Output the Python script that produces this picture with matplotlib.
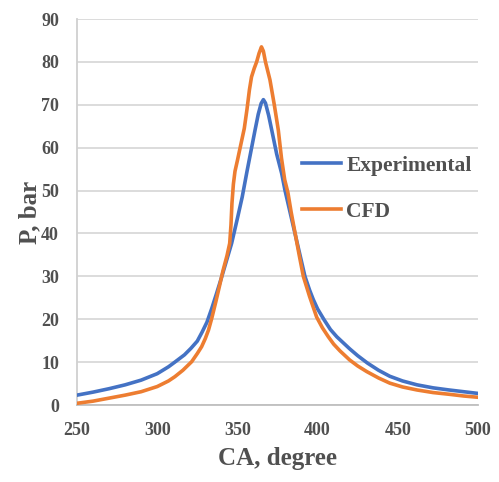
import matplotlib
matplotlib.use("Agg")
import matplotlib.pyplot as plt

exp_ca = [250, 260, 270, 280, 290, 300, 307, 311, 317, 321, 325, 328, 331, 334, 337, 340, 343, 346.4,
          350, 353, 356, 358.5, 361, 363, 364.8, 366.2, 367.5, 369.5, 371.4, 374.5, 377.6, 379.7,
          382.8, 385.9, 389, 392.1, 395, 397.3, 400, 404, 408, 412, 416, 420, 425, 431, 438, 445,
          453, 462, 472, 482, 491, 500]
exp_p = [2.3, 3.0, 3.8, 4.7, 5.8, 7.3, 8.9, 10.0, 11.7, 13.2, 14.9, 17.0, 19.3, 22.5, 26.0, 29.6, 33.4, 37.7,
         43.5, 48.5, 54.5, 59.3, 64.1, 67.8, 70.3, 71.2, 70.4, 67.5, 64.1, 58.5, 54.0, 50.0,
         45.0, 40.0, 35.0, 30.0, 26.8, 24.6, 22.4, 19.9, 17.6, 15.9, 14.5, 13.1, 11.5, 9.8, 8.1, 6.7,
         5.6, 4.7, 4.0, 3.5, 3.1, 2.7]

cfd_ca = [250, 260, 270, 280, 290, 300, 307, 311, 316, 321.5, 325, 327.7, 330, 332, 334, 336.5, 339, 341,
          343.5, 345.2, 346.0, 346.6, 347.5, 348.5, 350, 352, 354.3, 356, 357.5, 358.8, 360.5, 362,
          363.5, 365, 366.2, 367.5, 370.3, 373, 375.5, 377.5, 379.5, 381.5, 383.5, 386, 388.5, 391.1,
          395, 399.4, 403, 406.7, 410, 414, 420, 425, 430.6, 438, 445, 453, 462, 472, 482, 491, 500]
cfd_p = [0.4, 0.9, 1.6, 2.3, 3.1, 4.3, 5.6, 6.6, 8.1, 10.1, 12.0, 13.6, 15.5, 17.5, 20.2, 24.0, 28.0, 31.3,
         34.8, 37.7, 42.0, 47.0, 51.5, 54.5, 57.0, 60.5, 64.5, 69.0, 73.5, 76.5, 78.5, 80.0,
         82.0, 83.5, 82.5, 80.0, 75.8, 70.0, 64.1, 57.5, 52.5, 49.5, 45.0, 40.0, 35.0, 30.0,
         25.3, 20.5, 18.0, 15.9, 14.2, 12.6, 10.5, 9.1, 7.8, 6.3, 5.1, 4.2, 3.5, 2.9, 2.5, 2.1, 1.8]

x_ticks = [250, 300, 350, 400, 450, 500]
y_ticks = [0, 10, 20, 30, 40, 50, 60, 70, 80, 90]

grey = "#505050"
plt.rcParams['font.family'] = ['Liberation Serif', 'DejaVu Serif']
plt.rcParams['font.weight'] = 'bold'

fig = plt.figure(figsize=(4.99, 4.82), dpi=100)
ax = fig.add_axes([77/499, 1 - 405/482, (478-77)/499, (405-19)/482])

ax.plot(exp_ca, exp_p, color="#4472C4", lw=2.6, label="Experimental", zorder=3)
ax.plot(cfd_ca, cfd_p, color="#ED7D31", lw=2.6, label="CFD", zorder=3)

ax.set_xlim(250, 500)
ax.set_ylim(0, 90)
ax.set_xticks(x_ticks)
ax.set_yticks(y_ticks)
ax.grid(axis='y', color="#d9d9d9", lw=1.3)
ax.set_axisbelow(True)
for s in ['top', 'right']:
    ax.spines[s].set_visible(False)
ax.spines['left'].set_color("#d0d0d0")
ax.spines['bottom'].set_color("#bfbfbf")
ax.spines['left'].set_linewidth(1.3)
ax.spines['bottom'].set_linewidth(1.3)
ax.tick_params(axis='both', length=0, labelsize=13, labelcolor=grey)
ax.tick_params(axis='x', pad=12)
ax.tick_params(axis='y', pad=13)
for lab in ax.get_xticklabels() + ax.get_yticklabels():
    lab.set_fontweight('bold')

ax.set_xlabel("CA, degree", fontsize=18, fontweight='bold', color=grey, labelpad=6)
ax.set_ylabel("P, bar", fontsize=18, fontweight='bold', color=grey, labelpad=0)

leg = ax.legend(loc='center left', bbox_to_anchor=(0.513, 0.56), frameon=False,
                prop={'size': 15.5, 'weight': 'bold'}, handlelength=1.8, handletextpad=0.25,
                labelspacing=1.2, labelcolor=grey)

fig.savefig("out.png", dpi=100)
